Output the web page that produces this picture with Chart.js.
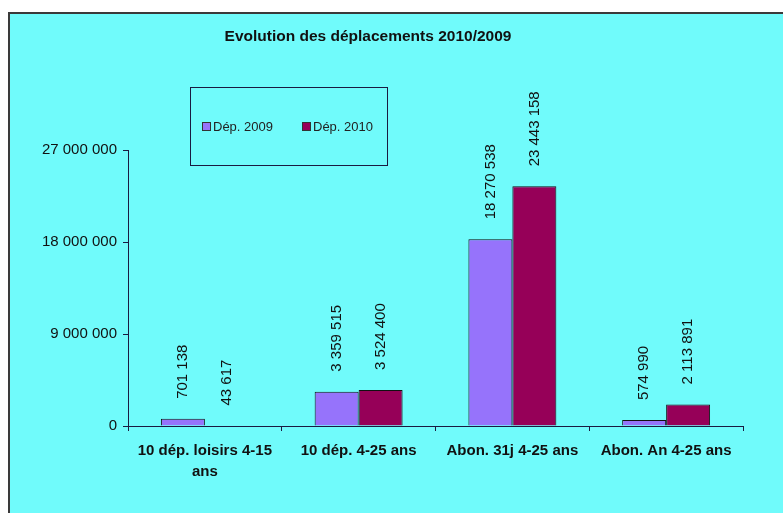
<!DOCTYPE html>
<html>
<head>
<meta charset="utf-8">
<script src="https://cdn.jsdelivr.net/npm/chart.js@4.4.1/dist/chart.umd.min.js"></script>
<style>
  html, body { margin: 0; padding: 0; background: #fff; }
  #frame {
    position: absolute; left: 8px; top: 12px;
    width: 775px; height: 501px;
    background: #70fbfb;
    border-left: 2px solid #3a3a3a;
    border-top: 2px solid #3a3a3a;
  }
  #MyChart { display: block; }
</style>
</head>
<body>
<div id="frame"><canvas id="MyChart" width="775" height="501"></canvas></div>
<script>
var categories = [['10 dép. loisirs 4-15', 'ans'], '10 dép. 4-25 ans', 'Abon. 31j 4-25 ans', 'Abon. An 4-25 ans'];
var dep2009 = [701138, 3359515, 18270538, 574990];
var dep2010 = [43617, 3524400, 23443158, 2113891];
var seriesNames = ['Dép. 2009', 'Dép. 2010'];
var yTicks = [0, 9000000, 18000000, 27000000];
var chartTitle = 'Evolution des déplacements 2010/2009';

var FONT = '"Liberation Sans", Arial, sans-serif';

function fmt(v) {
  return String(v).replace(/\B(?=(\d{3})+(?!\d))/g, ' ');
}

// title drawn by hand so it sits where the original has it
const titlePlugin = {
  id: 'titlePlugin',
  afterDraw(chart) {
    const ctx = chart.ctx;
    ctx.save();
    ctx.font = 'bold 15.5px ' + FONT;
    ctx.fillStyle = '#111';
    ctx.textAlign = 'center';
    ctx.textBaseline = 'middle';
    ctx.fillText(chartTitle, 358, 23);
    ctx.restore();
  }
};

// rotated value labels above the bars
const valueLabels = {
  id: 'valueLabels',
  afterDatasetsDraw(chart) {
    const ctx = chart.ctx;
    ctx.save();
    ctx.font = '15px ' + FONT;
    ctx.fillStyle = '#111';
    ctx.textAlign = 'left';
    ctx.textBaseline = 'middle';
    chart.data.datasets.forEach(function (ds, i) {
      chart.getDatasetMeta(i).data.forEach(function (bar, j) {
        ctx.save();
        ctx.translate(bar.x, bar.y - 20);
        ctx.rotate(-Math.PI / 2);
        ctx.fillText(fmt(ds.data[j]), 0, 0);
        ctx.restore();
      });
    });
    ctx.restore();
  }
};

// boxed legend placed inside the plot area like the original
const boxLegend = {
  id: 'boxLegend',
  afterDraw(chart) {
    const ctx = chart.ctx;
    const x = 180, y = 73, w = 197, h = 78;
    ctx.save();
    ctx.strokeStyle = '#1a1a40';
    ctx.lineWidth = 1;
    ctx.strokeRect(x + 0.5, y + 0.5, w, h);
    ctx.font = '13px ' + FONT;
    ctx.textBaseline = 'middle';
    var ix = x + 12;
    chart.data.datasets.forEach(function (ds) {
      ctx.fillStyle = ds.backgroundColor;
      ctx.fillRect(ix, y + 35, 9, 9);
      ctx.strokeStyle = '#333';
      ctx.strokeRect(ix + 0.5, y + 35.5, 8, 8);
      ctx.fillStyle = '#222';
      ctx.fillText(ds.label, ix + 11, y + 40);
      ix += 100;
    });
    ctx.restore();
  }
};

const data = {
  labels: categories,
  datasets: [{
    label: seriesNames[0],
    data: dep2009,
    backgroundColor: '#9673fb',
    borderColor: '#111',
    borderWidth: 1
  }, {
    label: seriesNames[1],
    data: dep2010,
    backgroundColor: '#960058',
    borderColor: '#111',
    borderWidth: 1
  }]
};

const config = {
  type: 'bar',
  data: data,
  options: {
    responsive: false,
    animation: false,
    categoryPercentage: 0.572,
    barPercentage: 1,
    layout: { padding: { left: 0, right: 42, top: 136, bottom: 0 } },
    plugins: {
      legend: { display: false },
      tooltip: { enabled: false },
      title: { display: false }
    },
    scales: {
      x: {
        grid: { display: true, drawOnChartArea: false, drawTicks: true, tickLength: 5, color: '#1a1a40', offset: true },
        border: { color: '#1a1a40', width: 1 },
        ticks: {
          color: '#111',
          maxRotation: 0,
          autoSkip: false,
          padding: 10,
          font: { family: FONT, size: 15, weight: 'bold', lineHeight: 1.35 }
        },
        afterFit: function (axis) { axis.height = 89; }
      },
      y: {
        min: 0,
        max: 27000000,
        afterBuildTicks: function (axis) {
          axis.ticks = yTicks.map(function (v) { return { value: v }; });
        },
        grid: { display: true, drawOnChartArea: false, drawTicks: true, tickLength: 5, color: '#1a1a40' },
        border: { color: '#1a1a40', width: 1 },
        ticks: {
          color: '#111',
          padding: 6,
          font: { family: FONT, size: 15 },
          callback: function (v) { return fmt(v); }
        },
        afterFit: function (axis) { axis.width = 118; }
      }
    }
  },
  plugins: [valueLabels, boxLegend, titlePlugin]
};

const myChart = new Chart(document.getElementById('MyChart'), config);
</script>
</body>
</html>
